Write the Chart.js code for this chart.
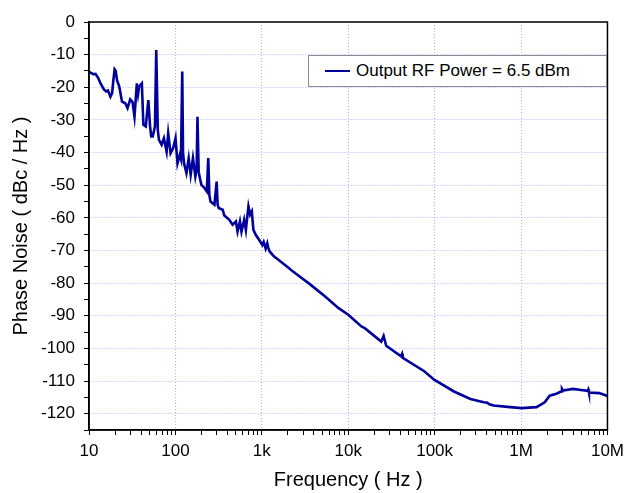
<!DOCTYPE html>
<html lang="en">
  <head>
    <meta charset="UTF-8" />
    <title>Phase Noise</title>
    <script src="https://cdn.jsdelivr.net/npm/chart.js@4.4.0/dist/chart.umd.min.js"></script>
    <style>
      body {
        margin: 0;
        background: #ffffff;
      }
      .chart-container {
        position: relative;
        width: 630px;
        height: 493px;
      }
      .legend-box {
        position: absolute;
        left: 308px;
        top: 55px;
        width: 297px;
        height: 30px;
        border: 1px solid #8c8c8c;
        background: #ffffff;
        font-family: "Liberation Sans", Arial, sans-serif;
        font-size: 17px;
        color: #000;
        display: flex;
        align-items: center;
      }
      .legend-line {
        display: inline-block;
        width: 25px;
        height: 2.5px;
        margin-left: 16px;
        margin-right: 6px;
      }
    </style>
  </head>
  <body>
    <div class="chart-container">
      <canvas id="noiseChart"></canvas>
      <div id="legend" class="legend-box"></div>
    </div>

    <script>
      // offset frequency (Hz)
      const frequency = [
        10, 10.4, 11.2, 11.9, 12.8, 13.6, 14.8, 15.8, 16.6, 17.7, 18.5, 19.3,
        19.8, 20.4, 21.1, 22.4, 24.1, 26.3, 27.9, 30, 31.9, 33.6, 35.8, 37, 38,
        40.9, 42.6, 45.4, 48.6, 50.9, 52.5, 54.6, 58, 60, 62.5, 64.5, 69.3,
        73.6, 79.1, 82.5, 87.9, 94.1, 100.3, 105.7, 112.3, 116, 120, 122.5,
        125.9, 134.1, 142.5, 150.2, 159.6, 170.1, 176, 180, 186, 194.1, 200,
        217.4, 231, 240, 247, 254.7, 283, 300, 308, 317, 352, 368.6, 420.6,
        458.9, 502, 524, 558, 582, 625, 654, 700, 732, 766, 799, 851, 929, 1013,
        1050, 1108, 1156, 1190, 1232, 1380, 1647, 2051, 2238, 2913, 3478, 5405,
        7679, 10000, 14210, 15540, 24090, 25670, 27500, 40860, 42000, 42730,
        75780, 98700, 167400, 259400, 369600, 403300, 430000, 481300, 746000,
        1016000, 1510000, 1880000, 2145000, 2560000, 2900000, 2976000, 3050000,
        3980000, 5180000, 5900000, 6000000, 6100000, 8030000, 10000000,
      ];

      // phase noise (dBc/Hz), output RF power = 6.5 dBm
      const phaseNoise = [
        -15.2, -15.5, -16, -15.9, -17.2, -18.8, -20.6, -21.3, -21, -22.9, -21.8,
        -17, -14.5, -15, -17.8, -19.8, -24.4, -24.9, -26.4, -23.7, -24.5, -29,
        -18.8, -22, -19.8, -18.8, -31.5, -32, -23.9, -32, -35.1, -35.1, -32,
        -8.6, -33, -36.1, -37.6, -35.6, -39.7, -34.1, -40.2, -38.7, -35.6,
        -43.3, -40.7, -42, -15.2, -40, -43.3, -46.3, -41.7, -46.8, -41.7, -47.3,
        -45, -29, -46, -48.4, -49.9, -50.9, -51.9, -41.7, -53, -55, -56, -48.9,
        -56, -57, -57.5, -59.3, -60.6, -62.1, -61.1, -64.2, -61.1, -64.2,
        -60.6, -63.7, -56.5, -59, -58, -63.7, -65.2, -66.7, -68.3, -67.4,
        -69.4, -67.8, -69.2, -70.3, -71.8, -73.4, -75.4, -76.2, -78.5, -80,
        -84.1, -87.6, -89.7, -93.3, -93.8, -97.9, -96.2, -99.2, -102.4, -101.7,
        -102.9, -107, -109.6, -113.2, -115.5, -116.5, -116.6, -117.1, -117.5,
        -118, -118.3, -118, -116.5, -114.5, -113.9, -113.2, -112.4, -112.9,
        -112.4, -112.8, -113, -112.6, -113.5, -113.7, -114.6,
      ];

      const decadeLabels = {
        10: "10",
        100: "100",
        1000: "1k",
        10000: "10k",
        100000: "100k",
        1000000: "1M",
        10000000: "10M",
      };

      const seriesLabel = "Output RF Power = 6.5 dBm";
      const lineColor = "#00009c";
      const gridColor = "rgba(140, 140, 255, 0.7)";

      // 1..9 per decade, labels only on decades
      const xTickValues = [];
      for (let d = 10; d < 1e7; d *= 10) {
        for (let m = 1; m < 10; m++) xTickValues.push(m * d);
      }
      xTickValues.push(1e7);

      const isDecade = (v) => Math.abs(Math.log10(v) - Math.round(Math.log10(v))) < 1e-9;

      Chart.defaults.font.family = '"Liberation Sans", Arial, sans-serif';
      Chart.defaults.color = "#000";

      // black frame round the plot area (top and right sides)
      const frame = {
        id: "frame",
        afterDraw(chart) {
          const { ctx, chartArea } = chart;
          ctx.save();
          ctx.strokeStyle = "#000";
          ctx.lineWidth = 1.5;
          ctx.strokeRect(chartArea.left, chartArea.top, chartArea.right - chartArea.left, chartArea.bottom - chartArea.top);
          ctx.restore();
        },
      };

      const ctx = document.getElementById("noiseChart").getContext("2d");
      const noiseChart = new Chart(ctx, {
        type: "line",
        data: {
          datasets: [
            {
              label: seriesLabel,
              data: frequency.map((f, i) => ({ x: f, y: phaseNoise[i] })),
              borderColor: lineColor,
              borderWidth: 2.6,
              pointRadius: 0,
              tension: 0,
              fill: false,
            },
          ],
        },
        options: {
          responsive: true,
          maintainAspectRatio: false,
          animation: false,
          layout: { padding: { left: 0, right: 19, top: 22, bottom: 0 } },
          plugins: {
            legend: { display: false },
            tooltip: { enabled: false },
          },
          scales: {
            x: {
              type: "logarithmic",
              min: 10,
              max: 1e7,
              afterBuildTicks: (scale) => {
                scale.ticks = xTickValues.map((v) => ({ value: v }));
              },
              afterFit: (scale) => {
                scale.height = 63;
              },
              ticks: {
                autoSkip: false,
                maxRotation: 0,
                padding: 6,
                font: { size: 17 },
                callback: (v) => decadeLabels[v] || "",
              },
              grid: {
                color: (c) => (c.tick && isDecade(c.tick.value) ? gridColor : "rgba(0,0,0,0)"),
                tickColor: "#000",
                tickLength: 5,
                lineWidth: 1,
              },
              border: { color: "#000", width: 1.5, dash: [1, 2] },
              title: {
                display: true,
                text: "Frequency ( Hz )",
                font: { size: 20 },
                padding: { top: 0, bottom: 1 },
              },
            },
            y: {
              min: -125,
              max: 0,
              afterFit: (scale) => {
                scale.width = 89;
              },
              ticks: {
                stepSize: 5,
                autoSkip: false,
                padding: 9,
                font: { size: 17 },
                callback: (v) => (v % 10 === 0 ? String(v) : ""),
              },
              grid: {
                color: (c) => (c.tick && c.tick.value % 10 === 0 ? gridColor : "rgba(0,0,0,0)"),
                tickColor: "#000",
                tickLength: 5,
                lineWidth: 1,
              },
              border: { color: "#000", width: 1.5, dash: [1, 2] },
              title: {
                display: true,
                text: "Phase Noise ( dBc / Hz )",
                font: { size: 20 },
                padding: { top: 9, bottom: 0 },
              },
            },
          },
        },
        plugins: [frame],
      });

      // legend box drawn from the dataset
      const ds = noiseChart.data.datasets[0];
      const legend = document.getElementById("legend");
      const sample = document.createElement("span");
      sample.className = "legend-line";
      sample.style.background = ds.borderColor;
      const text = document.createElement("span");
      text.textContent = ds.label;
      legend.appendChild(sample);
      legend.appendChild(text);
    </script>
  </body>
</html>
